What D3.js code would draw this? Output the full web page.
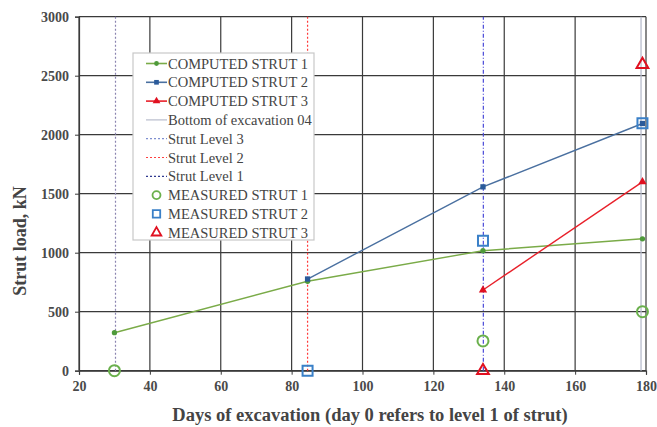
<!DOCTYPE html>
<html><head><meta charset="utf-8">
<script src="https://cdn.jsdelivr.net/npm/d3@7"></script>
<style>body{margin:0;background:#fff}svg{display:block}</style>
</head><body>
<script>
const xTicks = [20,40,60,80,100,120,140,160,180];
const yTicks = [0,500,1000,1500,2000,2500,3000];
const computed1 = [[30,322],[84.5,758],[134,1017],[179,1118]];
const computed2 = [[84.5,777],[134,1558],[179,2095]];
const computed3 = [[134,684],[179,1600]];
const measured1 = [[30,0],[134,252],[179,500]];
const measured2 = [[84.5,0],[134,1102],[179,2098]];
const measured3 = [[134,0],[179,2594]];
const strutLevels = [
  {name:"Strut Level 1", day:30.3, color:"#8a84b0", dash:"2,2"},
  {name:"Strut Level 2", day:84.5, color:"#ff3a3a", dash:"2,2"},
  {name:"Strut Level 3", day:134.1, color:"#4a4ad8", dash:"4,2,1,2"}
];
const bottomDay = 178.6;
const legendLabels = ["COMPUTED  STRUT 1","COMPUTED STRUT 2","COMPUTED STRUT 3","Bottom of excavation 04","Strut Level 3","Strut Level 2","Strut Level 1","MEASURED STRUT 1","MEASURED STRUT 2","MEASURED STRUT 3"];

const W=657,H=427;
const svg=d3.select("body").append("svg").attr("width",W).attr("height",H);
const x=d3.scaleLinear().domain([20,180]).range([79,646]);
const y=d3.scaleLinear().domain([0,3000]).range([370.7,16.7]);
const serif="'Liberation Serif','Times New Roman',serif";

// grid
const g=svg.append("g");
g.selectAll("line.v").data(xTicks).join("line").attr("x1",d=>x(d)).attr("x2",d=>x(d)).attr("y1",y(0)).attr("y2",y(3000)).attr("stroke","#3a3a3a").attr("stroke-width",1.2);
g.selectAll("line.h").data(yTicks).join("line").attr("x1",x(20)).attr("x2",x(180)).attr("y1",d=>y(d)).attr("y2",d=>y(d)).attr("stroke","#3a3a3a").attr("stroke-width",1.2);

// axes
const xa=svg.append("g").attr("transform",`translate(0,${y(0)})`).call(d3.axisBottom(x).tickValues(xTicks).tickFormat(d3.format("d")).tickSize(4).tickPadding(6));
const ya=svg.append("g").attr("transform",`translate(${x(20)},0)`).call(d3.axisLeft(y).tickValues(yTicks).tickFormat(d3.format("d")).tickSize(4).tickPadding(6));
[xa,ya].forEach(a=>{a.select(".domain").attr("stroke","#3a3a3a").attr("stroke-width",1.2);a.selectAll(".tick line").attr("stroke","#3a3a3a");a.selectAll("text").attr("font-family",serif).attr("font-weight","bold").attr("font-size",14).attr("fill","#4a4a4a");});

// vertical level lines
svg.selectAll("line.lvl").data(strutLevels).join("line").attr("x1",d=>x(d.day)).attr("x2",d=>x(d.day)).attr("y1",y(0)).attr("y2",y(3000)).attr("stroke",d=>d.color).attr("stroke-width",1.2).attr("stroke-dasharray",d=>d.dash);
svg.append("line").attr("x1",x(bottomDay)).attr("x2",x(bottomDay)).attr("y1",y(0)).attr("y2",y(3000)).attr("stroke","#b8bccc").attr("stroke-width",1.3);

const line=d3.line().x(d=>x(d[0])).y(d=>y(d[1]));
const series=[
  {data:computed1,color:"#7aab48",mk:"#4e9a3a",sym:d3.symbolCircle,size:22},
  {data:computed2,color:"#4a70a0",mk:"#2a5a9a",sym:d3.symbolSquare,size:28},
  {data:computed3,color:"#e8202a",mk:"#e01020",sym:d3.symbolTriangle,size:30}
];
series.forEach(s=>{
  svg.append("path").attr("d",line(s.data)).attr("fill","none").attr("stroke",s.color).attr("stroke-width",1.4);
  svg.selectAll(null).data(s.data).join("path").attr("transform",d=>`translate(${x(d[0])},${y(d[1])})`).attr("d",d3.symbol(s.sym,s.size)).attr("fill",s.mk);
});
const meas=[
  {data:measured1,color:"#6ab04c",sym:d3.symbolCircle,size:95},
  {data:measured2,color:"#3a80c8",sym:d3.symbolSquare,size:100},
  {data:measured3,color:"#e01020",sym:d3.symbolTriangle,size:60}
];
meas.forEach(s=>{
  svg.selectAll(null).data(s.data).join("path").attr("transform",d=>`translate(${x(d[0])},${y(d[1])})`).attr("d",d3.symbol(s.sym,s.size)).attr("fill","none").attr("stroke",s.color).attr("stroke-width",2);
});

// legend
const lg=svg.append("g");
lg.append("rect").attr("x",133).attr("y",53).attr("width",181).attr("height",187).attr("fill","#fff").attr("stroke","#c8c8c8").attr("stroke-width",1.2);
const ly=i=>63.5+i*18.8;
const items=[
  {t:"line",c:"#7aab48",mk:"#4e9a3a",sym:d3.symbolCircle,s:18},
  {t:"line",c:"#4a70a0",mk:"#2a5a9a",sym:d3.symbolSquare,s:22},
  {t:"line",c:"#e8202a",mk:"#e01020",sym:d3.symbolTriangle,s:26},
  {t:"plain",c:"#b8bccc",dash:null},
  {t:"plain",c:"#7f8fd0",dash:"2,2"},
  {t:"plain",c:"#ff4040",dash:"2,2"},
  {t:"plain",c:"#303a90",dash:"2,2"},
  {t:"open",c:"#6ab04c",sym:d3.symbolCircle,s:50},
  {t:"open",c:"#3a80c8",sym:d3.symbolSquare,s:55},
  {t:"open",c:"#e01020",sym:d3.symbolTriangle,s:40}
];
items.forEach((it,i)=>{
  const yy=ly(i);
  if(it.t!=="open"){
    lg.append("line").attr("x1",146).attr("x2",167).attr("y1",yy).attr("y2",yy).attr("stroke",it.c).attr("stroke-width",it.t==="line"?1.6:1.2).attr("stroke-dasharray",it.dash||null);
  }
  if(it.t==="line") lg.append("path").attr("transform",`translate(156.5,${yy})`).attr("d",d3.symbol(it.sym,it.s)).attr("fill",it.mk);
  if(it.t==="open") lg.append("path").attr("transform",`translate(156.5,${yy})`).attr("d",d3.symbol(it.sym,it.s)).attr("fill","none").attr("stroke",it.c).attr("stroke-width",1.8);
  lg.append("text").attr("x",168).attr("y",yy).attr("dy","0.35em").attr("font-family",serif).attr("font-size",14.5).attr("fill","#444").text(legendLabels[i]);
});

// titles
svg.append("text").attr("transform","translate(26,241) rotate(-90)").attr("text-anchor","middle").attr("font-family",serif).attr("font-weight","bold").attr("font-size",18).attr("fill","#444").text("Strut load, kN");
svg.append("text").attr("x",370).attr("y",421).attr("text-anchor","middle").attr("font-family",serif).attr("font-weight","bold").attr("font-size",18.5).attr("fill","#444").text("Days of excavation (day 0 refers to level 1 of strut)");
</script>
</body></html>
